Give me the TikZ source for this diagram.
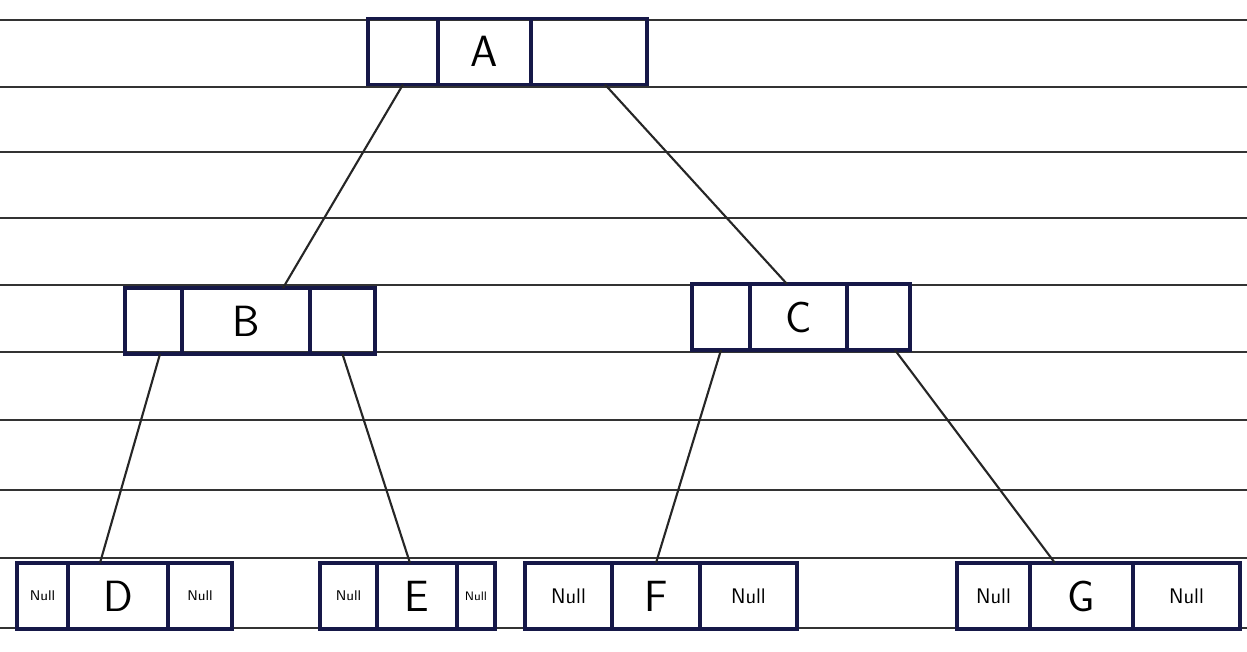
\documentclass[tikz,border=0pt]{standalone}
\usepackage{amsmath}
\usetikzlibrary{positioning}

\definecolor{ink}{RGB}{22,24,72}
\tikzset{
  cell/.style={draw=ink, line width=2pt, minimum height=1.32cm, inner sep=1pt, outer sep=0pt},
  key/.style={cell, font=\Huge\sffamily},
  nul/.style={cell, font=\large\sffamily},
  nulsmall/.style={cell, font=\footnotesize\sffamily},
  link/.style={line width=1.2pt, draw=black!85}
}

\begin{document}
\begin{tikzpicture}[x=0.02cm, y=-0.02cm]
    \useasboundingbox[fill=white] (0,0) rectangle (1247,652);

    %ruled paper
    \foreach \y in {20,87,152,218,285,352,420,490,558,628}
        \draw[line width=0.8pt, black!80] (0,\y) -- (1247,\y);

    %root
    \node[cell, minimum width=1.4cm] (Al) at (403,51.5) {};
    \node[key, minimum width=1.86cm, right=0pt of Al] (A) {A};
    \node[cell, minimum width=2.32cm, right=0pt of A] (Ar) {};

    %second level
    \node[cell, minimum width=1.14cm] (Bl) at (153.5,321) {};
    \node[key, minimum width=2.56cm, right=0pt of Bl] (B) {B};
    \node[cell, minimum width=1.3cm, right=0pt of B] (Br) {};

    \node[cell, minimum width=1.16cm] (Cl) at (721,317) {};
    \node[key, minimum width=1.94cm, right=0pt of Cl] (C) {C};
    \node[cell, minimum width=1.26cm, right=0pt of C] (Cr) {};

    %leaves
    \node[nulsmall, minimum width=1.02cm] (Dl) at (42.5,596) {Null};
    \node[key, minimum width=2.0cm, right=0pt of Dl] (D) {D};
    \node[nulsmall, minimum width=1.28cm, right=0pt of D] (Dr) {Null};

    \node[nulsmall, minimum width=1.14cm] (El) at (348.5,596) {Null};
    \node[key, minimum width=1.6cm, right=0pt of El] (E) {E};
    \node[nulsmall, font=\scriptsize\sffamily, minimum width=0.76cm, right=0pt of E] (Er) {Null};

    \node[nul, minimum width=1.74cm] (Fl) at (568.5,596) {Null};
    \node[key, minimum width=1.76cm, right=0pt of Fl] (F) {F};
    \node[nul, minimum width=1.94cm, right=0pt of F] (Fr) {Null};

    \node[nul, minimum width=1.46cm] (Gl) at (993.5,596) {Null};
    \node[key, minimum width=2.06cm, right=0pt of Gl] (G) {G};
    \node[nul, minimum width=2.14cm, right=0pt of G] (Gr) {Null};

    %links
    \draw[link] (Al.south) -- ([xshift=0.74cm]B.north);
    \draw[link] ([xshift=0.32cm]Ar.south) -- ([xshift=-0.23cm]C.north);
    \draw[link] ([xshift=0.13cm]Bl.south) -- ([xshift=-0.36cm]D.north);
    \draw[link] (Br.south) -- ([xshift=-0.14cm]E.north);
    \draw[link] (Cl.south) -- (F.north);
    \draw[link] ([xshift=0.33cm]Cr.south) -- ([xshift=-0.53cm]G.north);
\end{tikzpicture}
\end{document}
